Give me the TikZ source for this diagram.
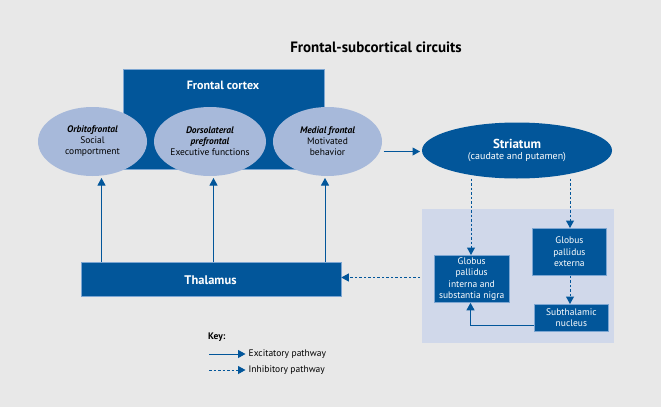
\documentclass[tikz,border=0pt]{standalone}
\usepackage{fontspec}
\setmainfont{PT Sans}
\usetikzlibrary{shapes.geometric,arrows.meta}
\definecolor{dblue}{RGB}{2,86,154}
\definecolor{lblue}{RGB}{167,185,218}
\definecolor{regionc}{RGB}{208,216,234}
\definecolor{bgc}{RGB}{232,232,232}
\definecolor{edgec}{RGB}{125,166,210}
\tikzset{
  box/.style={draw=edgec, line width=0.8pt, fill=dblue, text=white, inner sep=0pt, align=center},
  oval/.style={ellipse, fill=lblue, inner sep=0pt, align=center, font=\fontsize{9.5}{11}\selectfont},
  exc/.style={draw=dblue, line width=1pt, -{Triangle[length=7.5pt,width=8pt]}},
  inh/.style={draw=dblue, line width=1pt, dash pattern=on 2.5pt off 2pt, -{Triangle[length=7.5pt,width=8pt]}},
  lbl/.style={inner sep=0pt, anchor=west, font=\fontsize{9.5}{11}\selectfont}
}
\begin{document}
\begin{tikzpicture}[x=1pt,y=-1pt]
\fill[bgc] (0,0) rectangle (661,407);
\useasboundingbox (0,0) rectangle (661,407);
% title
\node[font=\fontsize{15}{17}\selectfont\bfseries] (title) at (376,47) {Frontal-subcortical circuits};
% frontal cortex
\node[box, minimum width=201pt, minimum height=100pt, anchor=north west] (fc) at (123,69) {};
\node[text=white, font=\fontsize{12}{14}\selectfont\bfseries] (fct) at (223,85) {Frontal cortex};
% ellipses
\node[oval, minimum width=109pt, minimum height=69pt] (orb) at (92.5,141.5) {\textbf{\textit{Orbitofrontal}}\\Social\\comportment};
\node[oval, minimum width=109pt, minimum height=69pt] (dlp) at (210,141.5) {\textbf{\textit{Dorsolateral}}\\\textbf{\textit{prefrontal}}\\Executive functions};
\node[oval, minimum width=109pt, minimum height=69pt] (med) at (327.5,141.5) {\textbf{\textit{Medial frontal}}\\Motivated\\behavior};
% striatum
\node[ellipse, fill=dblue, text=white, minimum width=190pt, minimum height=56pt, inner sep=0pt, align=center] (str) at (517,150.5)
  {{\fontsize{13}{14}\selectfont\bfseries Striatum}\\[-1pt]{\fontsize{10}{11}\selectfont (caudate and putamen)}};
% region
\node[fill=regionc, minimum width=192pt, minimum height=134pt, anchor=north west, inner sep=0pt] (reg) at (421.5,209) {};
% thalamus
\node[box, minimum width=260pt, minimum height=34pt, anchor=north west] (thal) at (80.5,262) {};
\node[text=white, font=\fontsize{12.5}{14}\selectfont\bfseries] (thalt) at (210.5,280) {Thalamus};
% basal ganglia boxes
\node[box, minimum width=75.5pt, minimum height=47pt, anchor=north west, font=\fontsize{9.5}{11.5}\selectfont] (gpi) at (433.5,255) {Globus\\pallidus\\interna and\\substantia nigra};
\node[box, minimum width=74pt, minimum height=47pt, anchor=north west, font=\fontsize{9.5}{11.5}\selectfont] (gpe) at (532,228) {Globus\\pallidus\\externa};
\node[box, minimum width=74pt, minimum height=27pt, anchor=north west, font=\fontsize{9.5}{11.5}\selectfont] (stn) at (534,304) {Subthalamic\\nucleus};
% connectors
\coordinate (t1) at (101.5,262);
\coordinate (t2) at (213.5,262);
\coordinate (t3) at (325,262);
\coordinate (m1) at (383.5,151.5);
\coordinate (s0) at (420,151.5);
\draw[exc] (t1) -- (101.5,178);
\draw[exc] (t2) -- (213.5,178);
\draw[exc] (t3) -- (325,178);
\draw[exc] (m1) -- (s0);
\draw[inh] (471,178.5) -- (gpi.north -| 471,0);
\draw[inh] (570,178.5) -- (gpe.north -| 570,0);
\draw[inh] (gpe.south -| 570,0) -- (stn.north -| 570,0);
\draw[exc] (stn.west |- 0,325.5) -- (470.5,325.5) -- (gpi.south -| 470.5,0);
\coordinate (rl) at (420,277.5);
\draw[inh] (rl) -- (thal.east |- rl);
% key
\node[lbl, font=\fontsize{9.5}{11}\selectfont\bfseries] (key) at (208,337) {Key:};
\coordinate (k1) at (209,354);
\coordinate (k2) at (209,370);
\node[lbl] (ke) at (248.5,354) {Excitatory pathway};
\node[lbl] (ki) at (248.5,370) {Inhibitory pathway};
\draw[exc] (k1) -- ([xshift=-3pt]ke.west);
\draw[inh] (k2) -- ([xshift=-3pt]ki.west);
\end{tikzpicture}
\end{document}
